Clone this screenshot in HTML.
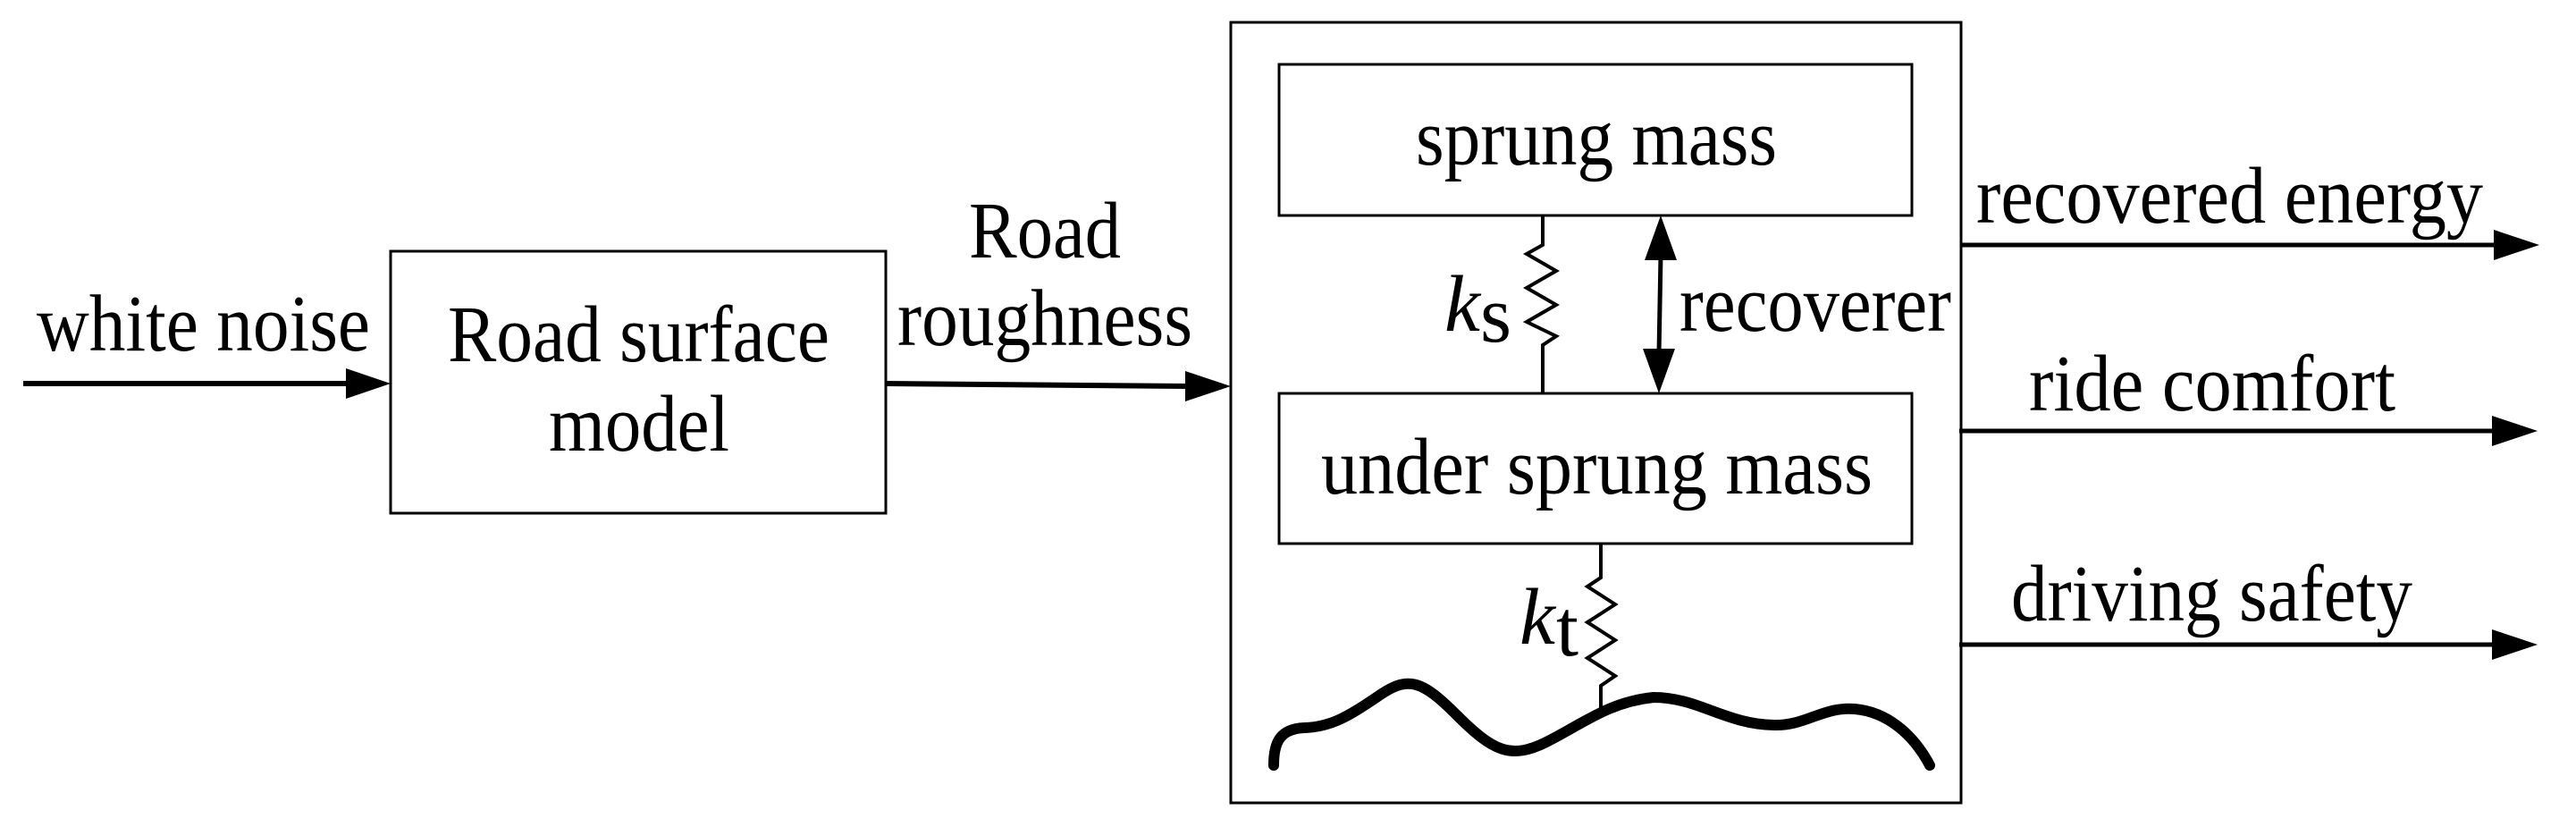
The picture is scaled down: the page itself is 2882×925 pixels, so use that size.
<!DOCTYPE html>
<html><head><meta charset="utf-8"><style>
html,body{margin:0;padding:0;background:#fff;}
svg{display:block;}
text{font-family:"Liberation Serif",serif;font-size:90px;fill:#000;}
</style></head><body>
<svg width="2882" height="925" viewBox="0 0 2882 925" xmlns="http://www.w3.org/2000/svg">
<g fill="none" stroke="#000">
<rect x="437" y="281" width="554" height="293" stroke-width="3"/>
<rect x="1377" y="25" width="817" height="873" stroke-width="3"/>
<rect x="1431" y="72" width="708" height="169" stroke-width="3"/>
<rect x="1431" y="440" width="708" height="168" stroke-width="3"/>
<line x1="26" y1="429" x2="395" y2="429" stroke-width="6"/>
<line x1="991" y1="429" x2="1330" y2="432" stroke-width="6"/>
<line x1="2194" y1="274" x2="2795" y2="274" stroke-width="5"/>
<line x1="2192" y1="482" x2="2793" y2="482" stroke-width="5"/>
<line x1="2192" y1="721" x2="2793" y2="721" stroke-width="5"/>
<polyline points="1726,241 1726,274 1708,284 1741,303 1708,322 1741,341 1708,360 1741,376 1726,386 1726,440" stroke-width="4"/>
<polyline points="1791,608 1791,646 1776,656 1807,676 1776,696 1807,716 1776,736 1807,756 1791,767 1791,800" stroke-width="4"/>
<line x1="1858" y1="285" x2="1856" y2="396" stroke-width="5"/>
<path d="M1425,856 C1425,830 1432,815 1460,814 C1490,813 1510,800 1540,780 C1575,755 1590,760 1630,800 C1670,840 1690,850 1730,830 C1770,810 1800,785 1850,780 C1900,780 1930,810 1985,811 C2020,812 2040,790 2075,793 C2110,796 2140,820 2159,856" stroke-width="12" stroke-linecap="round"/>
</g>
<g fill="#000" stroke="none">
<polygon points="387,412 437,429 387,446"/>
<polygon points="1326,415 1377,432 1326,449"/>
<polygon points="2790,257 2841,274 2790,291"/>
<polygon points="2788,465 2839,482 2788,499"/>
<polygon points="2788,704 2839,721 2788,738"/>
<polygon points="1858,241 1876,291 1840,291"/>
<polygon points="1856,440 1838,390 1874,390"/>
</g>
<text x="41" y="392" textLength="373" lengthAdjust="spacingAndGlyphs">white noise</text>
<text x="501" y="404" textLength="427" lengthAdjust="spacingAndGlyphs">Road surface</text>
<text x="614" y="504" textLength="202" lengthAdjust="spacingAndGlyphs">model</text>
<text x="1084" y="288" textLength="170" lengthAdjust="spacingAndGlyphs">Road</text>
<text x="1004" y="386" textLength="330" lengthAdjust="spacingAndGlyphs">roughness</text>
<text x="1584" y="184" textLength="404" lengthAdjust="spacingAndGlyphs">sprung mass</text>
<text x="1478" y="552" textLength="617" lengthAdjust="spacingAndGlyphs">under sprung mass</text>
<text x="1879" y="370" textLength="304" lengthAdjust="spacingAndGlyphs">recoverer</text>
<text x="1616" y="370" font-style="italic">k</text>
<text x="1656" y="382" font-size="48">s</text>
<text x="1700" y="720" font-style="italic">k</text>
<text x="1741" y="733" font-size="50">t</text>
<text x="2211" y="249" textLength="567" lengthAdjust="spacingAndGlyphs">recovered energy</text>
<text x="2270" y="459" textLength="410" lengthAdjust="spacingAndGlyphs">ride comfort</text>
<text x="2250" y="694" textLength="449" lengthAdjust="spacingAndGlyphs">driving safety</text>
</svg>
</body></html>
